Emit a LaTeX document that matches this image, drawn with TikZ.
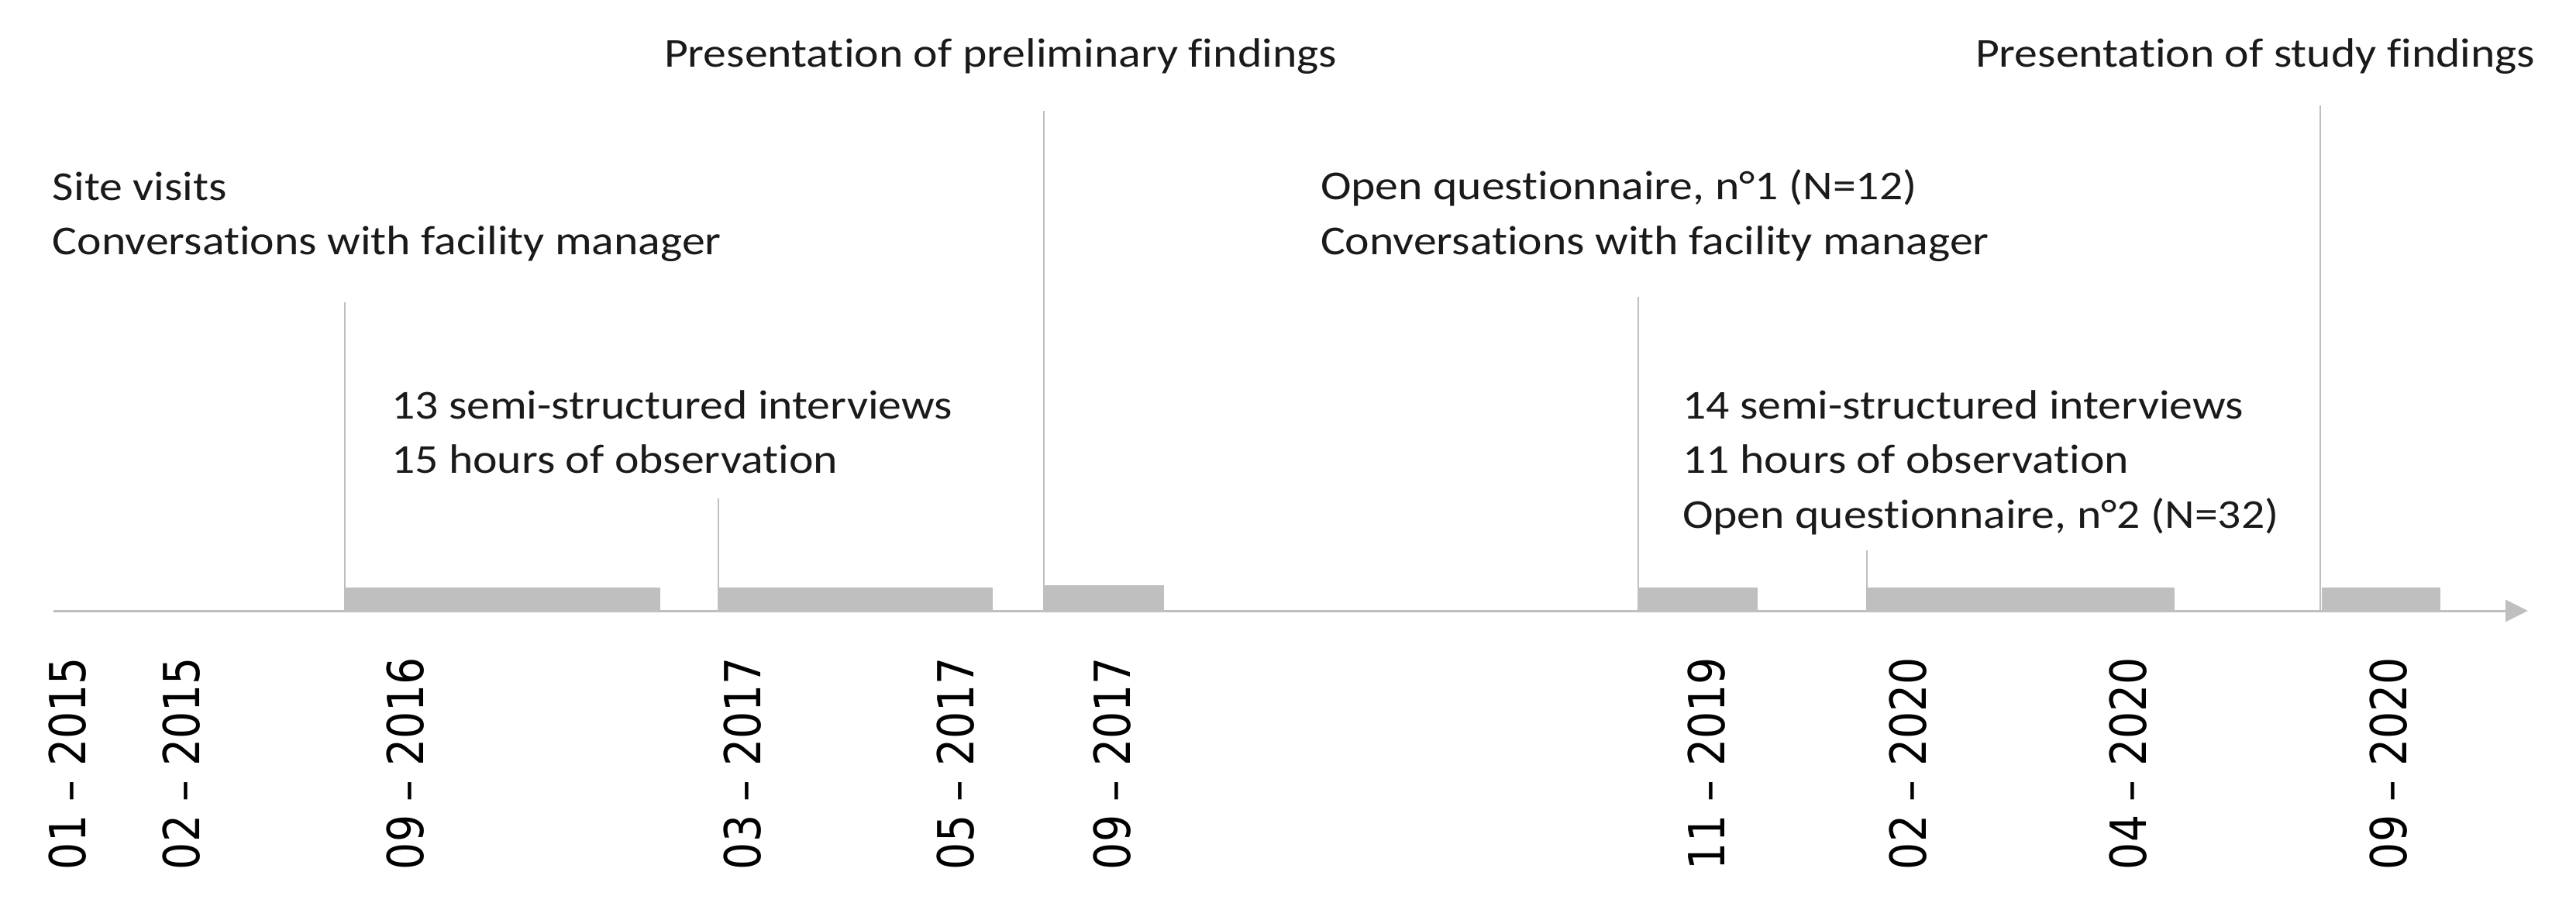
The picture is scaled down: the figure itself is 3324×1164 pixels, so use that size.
\documentclass[tikz,border=0pt]{standalone}
\usepackage{fontspec}
\usepackage{graphicx}
\setmainfont{Carlito}[FakeStretch=1.127,Ligatures={NoCommon}]
\newfontfamily\datefont{DejaVu Sans}
\usetikzlibrary{arrows.meta}
\definecolor{bargray}{HTML}{BFBFBF}
\definecolor{txt}{HTML}{1A1A1A}
\newcommand\dl[1]{\scalebox{0.97}[1.127]{#1}}
\begin{document}
\begin{tikzpicture}[x=0.2pt,y=-0.2pt,
  lab/.style={anchor=base west, inner sep=0pt, font=\fontsize{10.6}{12}\selectfont, text=txt},
  datelab/.style={rotate=90, anchor=west, inner sep=0pt, font=\fontsize{11.4}{13}\datefont, text height=9.37pt, text depth=0pt, text=black},
  tickline/.style={draw=bargray, line width=0.4pt},
  axisline/.style={draw=bargray, line width=0.6pt, -{Triangle[length=5.8pt,width=5.6pt]}}]
\useasboundingbox (0,0) rectangle (3324,1164);

% axis
\coordinate (ax0) at (69,788);
\coordinate (ax1) at (3262,788);
\draw[axisline] (ax0) -- (ax1);

% vertical ticks
\coordinate (t1) at (445,390);  \coordinate (b1) at (445,788);
\coordinate (t2) at (927,643);  \coordinate (b2) at (927,788);
\coordinate (t3) at (1347,143); \coordinate (b3) at (1347,788);
\coordinate (t4) at (2114,383); \coordinate (b4) at (2114,788);
\coordinate (t5) at (2409,710); \coordinate (b5) at (2409,788);
\coordinate (t6) at (2994,136); \coordinate (b6) at (2994,788);
\foreach \i in {1,...,6} \draw[tickline] (t\i) -- (b\i);

% bars
\fill[bargray] (445,758) rectangle (852,789);
\fill[bargray] (926,758) rectangle (1281,789);
\fill[bargray] (1347,755) rectangle (1502,789);
\fill[bargray] (2115,758) rectangle (2268,789);
\fill[bargray] (2409,758) rectangle (2806,789);
\fill[bargray] (2996,758) rectangle (3149,789);

% texts
\node[lab] (p1) at (856,86) {Presentation of preliminary findings};
\node[lab] (p2) at (2548,86) {Presentation of study findings};
\node[lab] (a1) at (67,258) {Site visits};
\node[lab] (a2) at (67,328) {Conversations with facility manager};
\node[lab] (b1t) at (504,540) {13 semi-structured interviews};
\node[lab] (b2t) at (504,610) {15 hours of observation};
\node[lab] (c1) at (1703,257) {Open questionnaire, n°1 (N=12)};
\node[lab] (c2) at (1703,328) {Conversations with facility manager};
\node[lab] (d1) at (2170,540) {14 semi-structured interviews};
\node[lab] (d2) at (2170,610) {11 hours of observation};
\node[lab] (d3) at (2170,681) {Open questionnaire, n°2 (N=32)};

% date labels
\node[datelab] (m1) at (87,1123) {\dl{01 – 2015}};
\node[datelab] (m2) at (234,1123) {\dl{02 – 2015}};
\node[datelab] (m3) at (523,1123) {\dl{09 – 2016}};
\node[datelab] (m4) at (958,1123) {\dl{03 – 2017}};
\node[datelab] (m5) at (1233,1123) {\dl{05 – 2017}};
\node[datelab] (m6) at (1435,1123) {\dl{09 – 2017}};
\node[datelab] (m7) at (2202,1123) {\dl{11 – 2019}};
\node[datelab] (m8) at (2462,1123) {\dl{02 – 2020}};
\node[datelab] (m9) at (2746,1123) {\dl{04 – 2020}};
\node[datelab] (m10) at (3082,1123) {\dl{09 – 2020}};
\end{tikzpicture}
\end{document}
